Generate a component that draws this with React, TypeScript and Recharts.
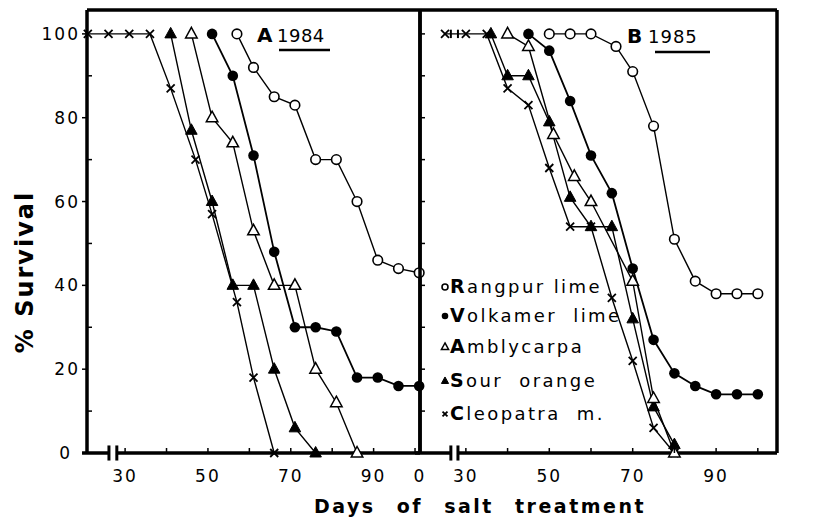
import { LineChart, Line, XAxis, YAxis, ReferenceLine } from 'recharts'

type Pt = [number, number]
type Shape = 'openCircle' | 'circle' | 'openTri' | 'tri' | 'cross'

// [day of salt treatment, % survival]
// A — 1984
const RANGPUR_84: Pt[] = [[57, 100], [61, 92], [66, 85], [71, 83], [76, 70], [81, 70], [86, 60], [91, 46], [96, 44], [101, 43]]
const VOLKAMER_84: Pt[] = [[51, 100], [56, 90], [61, 71], [66, 48], [71, 30], [76, 30], [81, 29], [86, 18], [91, 18], [96, 16], [101, 16]]
const AMBLY_84: Pt[] = [[46, 100], [51, 80], [56, 74], [61, 53], [66, 40], [71, 40], [76, 20], [81, 12], [86, 0]]
const SOUR_84: Pt[] = [[41, 100], [46, 77], [51, 60], [56, 40], [61, 40], [66, 20], [71, 6], [76, 0]]
const CLEO_84: Pt[] = [[21, 100], [26, 100], [31, 100], [36, 100], [41, 87], [47, 70], [51, 57], [57, 36], [61, 18], [66, 0]]

// B — 1985
const RANGPUR_85: Pt[] = [[50, 100], [55, 100], [60, 100], [66, 97], [70, 91], [75, 78], [80, 51], [85, 41], [90, 38], [95, 38], [100, 38]]
const VOLKAMER_85: Pt[] = [[45, 100], [50, 96], [55, 84], [60, 71], [65, 62], [70, 44], [75, 27], [80, 19], [85, 16], [90, 14], [95, 14], [100, 14]]
const AMBLY_85: Pt[] = [[40, 100], [45, 97], [51, 76], [56, 66], [60, 60], [70, 41], [75, 13], [80, 0]]
const SOUR_85: Pt[] = [[36, 100], [40, 90], [45, 90], [50, 79], [55, 61], [60, 54], [65, 54], [70, 32], [75, 11], [80, 2]]
const CLEO_85: Pt[] = [[25, 100], [30, 100], [35, 100], [40, 87], [45, 83], [50, 68], [55, 54], [60, 54], [65, 37], [70, 22], [75, 6], [80, 0]]

const X_TICKS = [30, 40, 50, 60, 70, 80, 90, 100]
const X_LABELS = [30, 50, 70, 90]
const Y_TICKS = [0, 10, 20, 30, 40, 50, 60, 70, 80, 90, 100]
const Y_LABELS = [0, 20, 40, 60, 80, 100]

const LEGEND: { initial: string; rest: string; shape: Shape }[] = [
  { initial: 'R', rest: 'angpur lime', shape: 'openCircle' },
  { initial: 'V', rest: 'olkamer  lime', shape: 'circle' },
  { initial: 'A', rest: 'mblycarpa', shape: 'openTri' },
  { initial: 'S', rest: 'our  orange', shape: 'tri' },
  { initial: 'C', rest: 'leopatra  m.', shape: 'cross' },
]

// axis extents (the x axes are broken just after day 0)
const Y_MAX = 105.7
const A_DOM: [number, number] = [20.8, 101.2]
const B_DOM: [number, number] = [19, 104.6]
const A_BREAK: [number, number] = [26.1, 28]
const B_BREAK: [number, number] = [26.4, 28.1]

const FONT = '"DejaVu Sans", sans-serif'
const INK = '#000'

function Marker({ cx, cy, shape, s = 1 }: { cx: number; cy: number; shape: Shape; s?: number }) {
  if (cx == null || cy == null) return null
  if (shape === 'openCircle') return <circle cx={cx} cy={cy} r={4.8 * s} fill="#fff" stroke={INK} strokeWidth={1.6} />
  if (shape === 'circle') return <circle cx={cx} cy={cy} r={5.3 * s} fill={INK} />
  if (shape === 'cross') {
    const d = 4 * s
    return <path d={`M${cx - d},${cy - d}L${cx + d},${cy + d}M${cx + d},${cy - d}L${cx - d},${cy + d}`} stroke={INK} strokeWidth={1.8} />
  }
  const h = 10.5 * s
  const pts = `${cx},${cy - h * 0.62} ${cx + h * 0.55},${cy + h * 0.38} ${cx - h * 0.55},${cy + h * 0.38}`
  return shape === 'tri'
    ? <polygon points={pts} fill={INK} stroke={INK} strokeWidth={1} />
    : <polygon points={pts} fill="#fff" stroke={INK} strokeWidth={1.5} />
}

const rows = (pts: Pt[]) => pts.map(([day, pct]) => ({ day, pct }))

const dotFor = (shape: Shape) => (p: any) => <Marker key={`d${p.index}`} cx={p.cx} cy={p.cy} shape={shape} />

const tickText = { fontFamily: FONT, fontSize: 17, fill: INK, letterSpacing: 2 }

// tick renderers: (x, y) is where the tick meets the axis line
const leftLabelled = (p: any) => {
  const { x, y, payload } = p
  const v = payload.value
  const major = v % 20 === 0
  return (
    <g>
      {major
        ? <line x1={x - 5} x2={x} y1={y} y2={y} stroke={INK} strokeWidth={1.5} />
        : <line x1={x} x2={x + 5} y1={y} y2={y} stroke={INK} strokeWidth={1.5} />}
      {Y_LABELS.includes(v) && (
        <text x={v === 0 ? x - 15 : x - 7} y={y} dy="0.36em" textAnchor="end" style={tickText}>{v}</text>
      )}
    </g>
  )
}
const rightLabelled = (p: any) => {
  const { x, y, payload } = p
  const v = payload.value
  return (
    <g>
      <line x1={x - 6} x2={x} y1={y} y2={y} stroke={INK} strokeWidth={1.5} />
      {Y_LABELS.includes(v) && (
        <text x={x + 7} y={y} dy="0.36em" textAnchor="start" style={tickText}>{v}</text>
      )}
    </g>
  )
}
const innerLeft = (p: any) => <line x1={p.x} x2={p.x + 5} y1={p.y} y2={p.y} stroke={INK} strokeWidth={1.5} />
const innerRight = (p: any) => <line x1={p.x - 5} x2={p.x} y1={p.y} y2={p.y} stroke={INK} strokeWidth={1.5} />
const topTick = (p: any) => <line x1={p.x} x2={p.x} y1={p.y} y2={p.y + 5} stroke={INK} strokeWidth={1.5} />
const bottomTick = (zero?: number) => (p: any) => {
  const { x, y, payload } = p
  const v = payload.value
  if (v === zero) return <text x={x} y={y + 29} textAnchor="middle" style={tickText}>0</text>
  return (
    <g>
      <line x1={x} x2={x} y1={y} y2={y - 5} stroke={INK} strokeWidth={1.5} />
      {X_LABELS.includes(v) && <text x={x} y={y + 29} textAnchor="middle" style={tickText}>{v}</text>}
    </g>
  )
}

function Frame({ dom, brk }: { dom: [number, number]; brk: [number, number] }) {
  const line = { stroke: INK, strokeWidth: 3.5, ifOverflow: 'visible' as const }
  const [x0, x1] = dom
  return [
    <ReferenceLine key="t" segment={[{ x: x0, y: Y_MAX }, { x: x1, y: Y_MAX }]} {...line} />,
    <ReferenceLine key="l" segment={[{ x: x0, y: 0 }, { x: x0, y: Y_MAX }]} {...line} />,
    <ReferenceLine key="r" segment={[{ x: x1, y: 0 }, { x: x1, y: Y_MAX }]} {...line} />,
    <ReferenceLine key="b1" segment={[{ x: x0 - 1.2, y: 0 }, { x: brk[0], y: 0 }]} {...line} />,
    <ReferenceLine key="b2" segment={[{ x: brk[1], y: 0 }, { x: x1, y: 0 }]} {...line} />,
    <ReferenceLine key="k1" segment={[{ x: brk[0], y: -1.8 }, { x: brk[0], y: 1.8 }]} stroke={INK} strokeWidth={3} ifOverflow="visible" />,
    <ReferenceLine key="k2" segment={[{ x: brk[1], y: -1.8 }, { x: brk[1], y: 1.8 }]} stroke={INK} strokeWidth={3} ifOverflow="visible" />,
  ]
}

const SERIES_84: { pts: Pt[]; shape: Shape; w: number }[] = [
  { pts: CLEO_84, shape: 'cross', w: 1.4 },
  { pts: SOUR_84, shape: 'tri', w: 1.4 },
  { pts: AMBLY_84, shape: 'openTri', w: 1.4 },
  { pts: VOLKAMER_84, shape: 'circle', w: 1.8 },
  { pts: RANGPUR_84, shape: 'openCircle', w: 1.4 },
]
const SERIES_85: { pts: Pt[]; shape: Shape; w: number }[] = [
  { pts: CLEO_85, shape: 'cross', w: 1.4 },
  { pts: SOUR_85, shape: 'tri', w: 1.4 },
  { pts: AMBLY_85, shape: 'openTri', w: 1.4 },
  { pts: VOLKAMER_85, shape: 'circle', w: 1.8 },
  { pts: RANGPUR_85, shape: 'openCircle', w: 1.4 },
]

function PanelA() {
  return (
    <LineChart width={430} height={490} margin={{ top: 9, right: 9, bottom: 0, left: 0 }}>
      <XAxis xAxisId={0} type="number" dataKey="day" domain={A_DOM} ticks={X_TICKS} interval={0}
        height={37} axisLine={false} tickLine={false} tickSize={0} tickMargin={0} tick={bottomTick()} />
      <XAxis xAxisId="top" orientation="top" type="number" dataKey="day" domain={A_DOM} ticks={X_TICKS} interval={0}
        height={1} axisLine={false} tickLine={false} tickSize={0} tickMargin={0} tick={topTick} />
      <YAxis yAxisId={0} type="number" domain={[0, Y_MAX]} ticks={Y_TICKS} interval={0}
        width={87} axisLine={false} tickLine={false} tickSize={0} tickMargin={0} tick={leftLabelled} />
      <YAxis yAxisId="r" orientation="right" type="number" domain={[0, Y_MAX]} ticks={Y_TICKS} interval={0}
        width={1} axisLine={false} tickLine={false} tickSize={0} tickMargin={0} tick={innerRight} />
      {Frame({ dom: A_DOM, brk: A_BREAK })}
      {SERIES_84.map((s, i) => (
        <Line key={i} data={rows(s.pts)} dataKey="pct" type="linear" stroke={INK} strokeWidth={s.w}
          dot={dotFor(s.shape)} activeDot={false} isAnimationActive={false} />
      ))}
    </LineChart>
  )
}

function PanelB() {
  return (
    <LineChart width={410} height={490} margin={{ top: 9, right: 0, bottom: 0, left: 0 }}>
      <XAxis xAxisId={0} type="number" dataKey="day" domain={B_DOM} ticks={[B_DOM[0], ...X_TICKS]} interval={0}
        height={37} axisLine={false} tickLine={false} tickSize={0} tickMargin={0} tick={bottomTick(B_DOM[0])} />
      <XAxis xAxisId="top" orientation="top" type="number" dataKey="day" domain={B_DOM} ticks={X_TICKS} interval={0}
        height={1} axisLine={false} tickLine={false} tickSize={0} tickMargin={0} tick={topTick} />
      <YAxis yAxisId={0} type="number" domain={[0, Y_MAX]} ticks={Y_TICKS} interval={0}
        width={10} axisLine={false} tickLine={false} tickSize={0} tickMargin={0} tick={innerLeft} />
      <YAxis yAxisId="r" orientation="right" type="number" domain={[0, Y_MAX]} ticks={Y_TICKS} interval={0}
        width={43} axisLine={false} tickLine={false} tickSize={0} tickMargin={0} tick={rightLabelled} />
      {Frame({ dom: B_DOM, brk: B_BREAK })}
      <ReferenceLine segment={[{ x: B_BREAK[0], y: 99 }, { x: B_BREAK[0], y: 101 }]} stroke={INK} strokeWidth={2} ifOverflow="visible" />
      <ReferenceLine segment={[{ x: B_BREAK[1], y: 99 }, { x: B_BREAK[1], y: 101 }]} stroke={INK} strokeWidth={2} ifOverflow="visible" />
      {SERIES_85.map((s, i) => (
        <Line key={i} data={rows(s.pts)} dataKey="pct" type="linear" stroke={INK} strokeWidth={s.w}
          dot={dotFor(s.shape)} activeDot={false} isAnimationActive={false} />
      ))}
    </LineChart>
  )
}

const LEGEND_BASELINES = [293, 322, 353, 387, 420]

export default function App() {
  return (
    <div style={{ position: 'absolute', left: 0, top: 0, width: 820, height: 523, background: '#fff', overflow: 'hidden' }}>
      <div style={{ position: 'absolute', left: 0, top: 0 }}><PanelA /></div>
      <div style={{ position: 'absolute', left: 410, top: 0 }}><PanelB /></div>
      <svg width={820} height={523} style={{ position: 'absolute', left: 0, top: 0, pointerEvents: 'none' }}>
        {/* panel titles */}
        <text x={257} y={42} style={{ fontFamily: FONT, fontSize: 20, fontWeight: 700 }}>A</text>
        <text x={277} y={42} style={{ fontFamily: FONT, fontSize: 18, letterSpacing: 0.5 }}>1984</text>
        <line x1={279} x2={330} y1={50} y2={50} stroke={INK} strokeWidth={2.5} />
        <text x={627} y={43} style={{ fontFamily: FONT, fontSize: 20, fontWeight: 700 }}>B</text>
        <text x={648} y={43} style={{ fontFamily: FONT, fontSize: 18, letterSpacing: 1 }}>1985</text>
        <line x1={655} x2={710} y1={52} y2={52} stroke={INK} strokeWidth={2.5} />

        {/* legend */}
        {LEGEND.map((e, i) => (
          <g key={e.initial}>
            <Marker cx={445} cy={LEGEND_BASELINES[i] - 6} shape={e.shape} s={0.62} />
            <text x={450} y={LEGEND_BASELINES[i]} style={{ fontFamily: FONT, fontSize: 18, letterSpacing: 2.4, whiteSpace: 'pre' }}>
              <tspan style={{ fontWeight: 700, fontSize: 19 }}>{e.initial}</tspan>{e.rest}
            </text>
          </g>
        ))}

        {/* axis titles */}
        <text transform="translate(33,272) rotate(-90)" textAnchor="middle"
          style={{ fontFamily: FONT, fontSize: 24, fontWeight: 700, letterSpacing: 2 }}>% Survival</text>
        <text x={480} y={513} textAnchor="middle"
          style={{ fontFamily: FONT, fontSize: 19, fontWeight: 700, letterSpacing: 2.5, wordSpacing: 12 }}>Days of salt treatment</text>
      </svg>
    </div>
  )
}
